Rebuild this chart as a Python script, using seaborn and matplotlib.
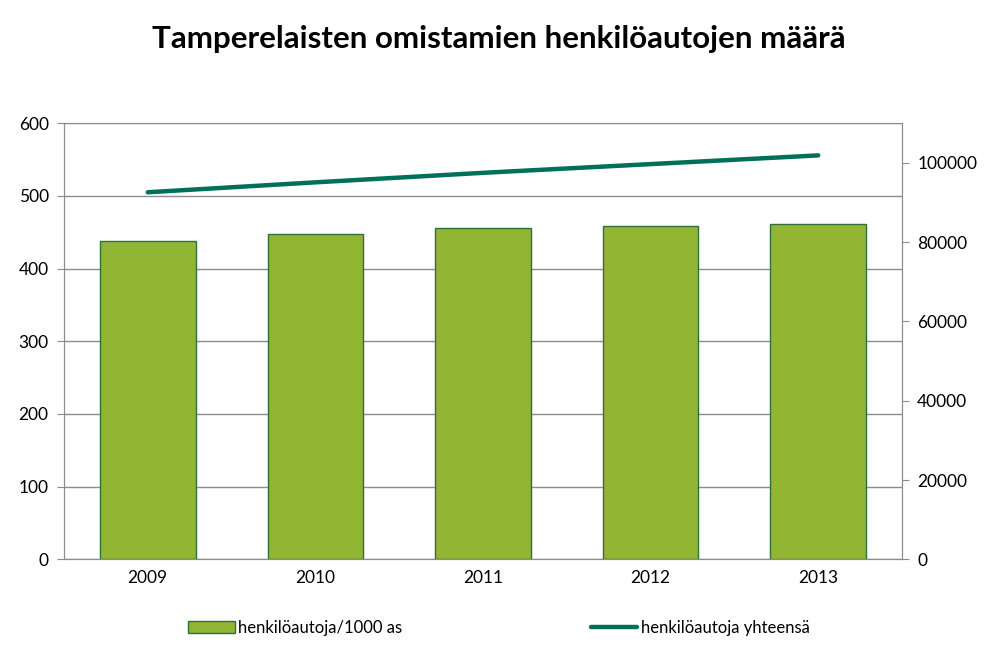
import pandas as pd
import seaborn as sns
import matplotlib.pyplot as plt
from matplotlib.patches import Patch
from matplotlib.lines import Line2D

# Data
years = ["2009", "2010", "2011", "2012", "2013"]
per_1000 = [437.6, 447.2, 455.5, 458.2, 461.0]
total_cars = [92600, 95100, 97500, 99700, 101900]

bar_label = "henkilöautoja/1000 as"
line_label = "henkilöautoja yhteensä"
title = "Tamperelaisten omistamien henkilöautojen määrä"

df = pd.DataFrame({"Vuosi": years, "per1000": per_1000, "total": total_cars})

sns.set_style("white")
plt.rcParams["font.family"] = ["Lato", "DejaVu Sans"]
plt.rcParams["text.color"] = "black"

bar_color = "#92B634"
edge_color = "#2F6F3E"
line_color = "#00705A"
grid_color = "#8C8C8C"

fig = plt.figure(figsize=(9.98, 6.61), dpi=100)
ax = fig.add_axes([0.0641, 0.1538, 0.8397, 0.6597])

sns.barplot(data=df, x="Vuosi", y="per1000", color=bar_color, width=0.57,
            edgecolor=edge_color, linewidth=1, saturation=1, ax=ax, zorder=2)
ax.set_ylim(0, 600)
ax.set_yticks(range(0, 601, 100))
ax.yaxis.grid(True, color=grid_color, linewidth=1)
ax.set_axisbelow(True)
ax.set_xlabel("")
ax.set_ylabel("")
ax.set_xlim(-0.5, 4.5)

ax2 = ax.twinx()
sns.lineplot(data=df, x="Vuosi", y="total", color=line_color, linewidth=3.2,
             ax=ax2, solid_capstyle="round")
ax2.set_ylim(0, 110000)
ax2.set_yticks(range(0, 100001, 20000))
ax2.set_ylabel("")
ax2.set_xlim(-0.5, 4.5)

for a in (ax, ax2):
    a.spines["top"].set_visible(False)
    a.spines["left"].set_color(grid_color)
    a.spines["right"].set_color(grid_color)
    a.spines["bottom"].set_color(grid_color)
    a.tick_params(axis="both", length=5, color=grid_color, labelsize=12.5,
                  labelcolor="black", direction="out", pad=6)
ax.tick_params(axis="x", length=0, pad=8)
ax.spines["top"].set_visible(True)
ax.spines["top"].set_color(grid_color)

fig.suptitle(title, x=0.5, y=0.962, fontsize=22.5, fontweight="bold", color="black")

handles = [Patch(facecolor=bar_color, edgecolor=edge_color, linewidth=1),
           Line2D([0], [0], color=line_color, linewidth=3.2)]
fig.legend(handles, [bar_label, line_label], loc="center", ncol=2,
           bbox_to_anchor=(0.5, 0.05), frameon=False, fontsize=12,
           columnspacing=11.3, handlelength=2.8, handletextpad=0.2)

fig.savefig("out.png", dpi=100)
